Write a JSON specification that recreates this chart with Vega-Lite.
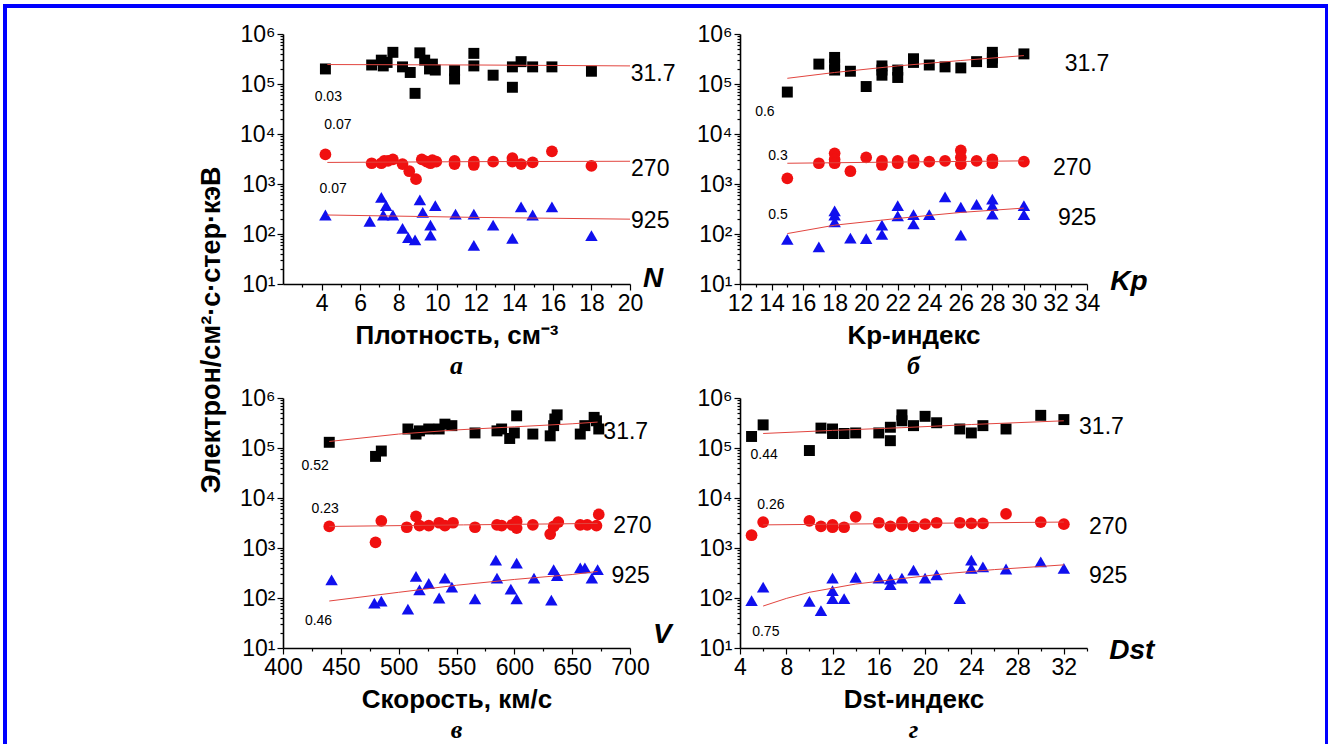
{
"$schema": "https://vega.github.io/schema/vega-lite/v6.json",
"background": "white",
"padding": {"left": 3, "top": 0, "right": 0, "bottom": 0},
"bounds": "flush",
"spacing": 0,
"datasets": {
"pts": [
{"p":"a","e":"31.7","x":4.2,"y":200000},{"p":"a","e":"31.7","x":6.6,"y":240000},{"p":"a","e":"31.7","x":7.1,"y":300000},{"p":"a","e":"31.7","x":7.2,"y":230000},{"p":"a","e":"31.7","x":7.4,"y":270000},{"p":"a","e":"31.7","x":7.7,"y":430000},{"p":"a","e":"31.7","x":8.2,"y":220000},{"p":"a","e":"31.7","x":8.6,"y":170000},{"p":"a","e":"31.7","x":8.85,"y":65000},{"p":"a","e":"31.7","x":9.1,"y":420000},{"p":"a","e":"31.7","x":9.35,"y":300000},{"p":"a","e":"31.7","x":9.6,"y":200000},{"p":"a","e":"31.7","x":9.75,"y":250000},{"p":"a","e":"31.7","x":9.9,"y":190000},{"p":"a","e":"31.7","x":10.9,"y":185000},{"p":"a","e":"31.7","x":10.9,"y":126000},{"p":"a","e":"31.7","x":11.9,"y":410000},{"p":"a","e":"31.7","x":11.9,"y":230000},{"p":"a","e":"31.7","x":12.9,"y":150000},{"p":"a","e":"31.7","x":13.9,"y":220000},{"p":"a","e":"31.7","x":13.9,"y":86000},{"p":"a","e":"31.7","x":14.35,"y":280000},{"p":"a","e":"31.7","x":14.95,"y":220000},{"p":"a","e":"31.7","x":15.95,"y":220000},{"p":"a","e":"31.7","x":18,"y":180000},
{"p":"a","e":"270","x":4.2,"y":3900},{"p":"a","e":"270","x":6.6,"y":2600},{"p":"a","e":"270","x":7.1,"y":2600},{"p":"a","e":"270","x":7.25,"y":2900},{"p":"a","e":"270","x":7.45,"y":2900},{"p":"a","e":"270","x":7.7,"y":3100},{"p":"a","e":"270","x":8.2,"y":2500},{"p":"a","e":"270","x":8.55,"y":1800},{"p":"a","e":"270","x":8.9,"y":1250},{"p":"a","e":"270","x":9.2,"y":3100},{"p":"a","e":"270","x":9.45,"y":2800},{"p":"a","e":"270","x":9.65,"y":2600},{"p":"a","e":"270","x":9.75,"y":3000},{"p":"a","e":"270","x":9.95,"y":2800},{"p":"a","e":"270","x":10.9,"y":2900},{"p":"a","e":"270","x":10.9,"y":2500},{"p":"a","e":"270","x":11.9,"y":2800},{"p":"a","e":"270","x":11.9,"y":2400},{"p":"a","e":"270","x":12.9,"y":2800},{"p":"a","e":"270","x":13.9,"y":3300},{"p":"a","e":"270","x":13.9,"y":2800},{"p":"a","e":"270","x":14.35,"y":2500},{"p":"a","e":"270","x":14.95,"y":2700},{"p":"a","e":"270","x":15.95,"y":4500},{"p":"a","e":"270","x":18,"y":2300},
{"p":"a","e":"925","x":4.2,"y":240},{"p":"a","e":"925","x":6.5,"y":180},{"p":"a","e":"925","x":7.1,"y":540},{"p":"a","e":"925","x":7.2,"y":240},{"p":"a","e":"925","x":7.35,"y":370},{"p":"a","e":"925","x":7.7,"y":240},{"p":"a","e":"925","x":8.2,"y":130},{"p":"a","e":"925","x":8.5,"y":85},{"p":"a","e":"925","x":8.85,"y":76},{"p":"a","e":"925","x":9.1,"y":480},{"p":"a","e":"925","x":9.25,"y":270},{"p":"a","e":"925","x":9.65,"y":150},{"p":"a","e":"925","x":9.65,"y":95},{"p":"a","e":"925","x":9.9,"y":370},{"p":"a","e":"925","x":10.95,"y":250},{"p":"a","e":"925","x":11.9,"y":250},{"p":"a","e":"925","x":11.9,"y":59},{"p":"a","e":"925","x":12.9,"y":150},{"p":"a","e":"925","x":13.9,"y":82},{"p":"a","e":"925","x":14.35,"y":350},{"p":"a","e":"925","x":14.95,"y":240},{"p":"a","e":"925","x":15.95,"y":350},{"p":"a","e":"925","x":18,"y":93},
{"p":"b","e":"31.7","x":15,"y":69000},{"p":"b","e":"31.7","x":17,"y":250000},{"p":"b","e":"31.7","x":18,"y":340000},{"p":"b","e":"31.7","x":18,"y":250000},{"p":"b","e":"31.7","x":18,"y":190000},{"p":"b","e":"31.7","x":19,"y":180000},{"p":"b","e":"31.7","x":20,"y":89000},{"p":"b","e":"31.7","x":21,"y":230000},{"p":"b","e":"31.7","x":21,"y":190000},{"p":"b","e":"31.7","x":21,"y":150000},{"p":"b","e":"31.7","x":22,"y":190000},{"p":"b","e":"31.7","x":22,"y":135000},{"p":"b","e":"31.7","x":23,"y":320000},{"p":"b","e":"31.7","x":23,"y":270000},{"p":"b","e":"31.7","x":24,"y":240000},{"p":"b","e":"31.7","x":25,"y":220000},{"p":"b","e":"31.7","x":26,"y":210000},{"p":"b","e":"31.7","x":27,"y":280000},{"p":"b","e":"31.7","x":28,"y":430000},{"p":"b","e":"31.7","x":28,"y":330000},{"p":"b","e":"31.7","x":28,"y":270000},{"p":"b","e":"31.7","x":30,"y":400000},
{"p":"b","e":"270","x":15,"y":1300},{"p":"b","e":"270","x":17,"y":2600},{"p":"b","e":"270","x":18,"y":4100},{"p":"b","e":"270","x":18,"y":3100},{"p":"b","e":"270","x":18,"y":2600},{"p":"b","e":"270","x":19,"y":1800},{"p":"b","e":"270","x":20,"y":3400},{"p":"b","e":"270","x":21,"y":2900},{"p":"b","e":"270","x":21,"y":2400},{"p":"b","e":"270","x":22,"y":2900},{"p":"b","e":"270","x":22,"y":2600},{"p":"b","e":"270","x":23,"y":3000},{"p":"b","e":"270","x":23,"y":2600},{"p":"b","e":"270","x":24,"y":2800},{"p":"b","e":"270","x":25,"y":2900},{"p":"b","e":"270","x":26,"y":4700},{"p":"b","e":"270","x":26,"y":3400},{"p":"b","e":"270","x":26,"y":2500},{"p":"b","e":"270","x":27,"y":2900},{"p":"b","e":"270","x":28,"y":3100},{"p":"b","e":"270","x":28,"y":2600},{"p":"b","e":"270","x":30,"y":2800},
{"p":"b","e":"925","x":15,"y":78},{"p":"b","e":"925","x":17,"y":55},{"p":"b","e":"925","x":18,"y":290},{"p":"b","e":"925","x":18,"y":240},{"p":"b","e":"925","x":18,"y":175},{"p":"b","e":"925","x":19,"y":83},{"p":"b","e":"925","x":20,"y":81},{"p":"b","e":"925","x":21,"y":150},{"p":"b","e":"925","x":21,"y":98},{"p":"b","e":"925","x":22,"y":370},{"p":"b","e":"925","x":22,"y":230},{"p":"b","e":"925","x":23,"y":245},{"p":"b","e":"925","x":23,"y":160},{"p":"b","e":"925","x":24,"y":245},{"p":"b","e":"925","x":25,"y":550},{"p":"b","e":"925","x":26,"y":345},{"p":"b","e":"925","x":26,"y":95},{"p":"b","e":"925","x":27,"y":390},{"p":"b","e":"925","x":28,"y":500},{"p":"b","e":"925","x":28,"y":370},{"p":"b","e":"925","x":28,"y":250},{"p":"b","e":"925","x":30,"y":370},{"p":"b","e":"925","x":30,"y":245},
{"p":"c","e":"31.7","x":440,"y":130000},{"p":"c","e":"31.7","x":480,"y":68000},{"p":"c","e":"31.7","x":485,"y":87000},{"p":"c","e":"31.7","x":508,"y":240000},{"p":"c","e":"31.7","x":515,"y":190000},{"p":"c","e":"31.7","x":518,"y":220000},{"p":"c","e":"31.7","x":526,"y":240000},{"p":"c","e":"31.7","x":535,"y":240000},{"p":"c","e":"31.7","x":540,"y":300000},{"p":"c","e":"31.7","x":546,"y":280000},{"p":"c","e":"31.7","x":566,"y":200000},{"p":"c","e":"31.7","x":585,"y":220000},{"p":"c","e":"31.7","x":589,"y":240000},{"p":"c","e":"31.7","x":596,"y":155000},{"p":"c","e":"31.7","x":600,"y":200000},{"p":"c","e":"31.7","x":602,"y":440000},{"p":"c","e":"31.7","x":616,"y":190000},{"p":"c","e":"31.7","x":631,"y":175000},{"p":"c","e":"31.7","x":634,"y":280000},{"p":"c","e":"31.7","x":635,"y":380000},{"p":"c","e":"31.7","x":637,"y":460000},{"p":"c","e":"31.7","x":657,"y":190000},{"p":"c","e":"31.7","x":661,"y":280000},{"p":"c","e":"31.7","x":669,"y":410000},{"p":"c","e":"31.7","x":671,"y":350000},{"p":"c","e":"31.7","x":673,"y":240000},
{"p":"c","e":"270","x":440,"y":2700},{"p":"c","e":"270","x":480,"y":1300},{"p":"c","e":"270","x":485,"y":3500},{"p":"c","e":"270","x":507,"y":2600},{"p":"c","e":"270","x":515,"y":4300},{"p":"c","e":"270","x":518,"y":2800},{"p":"c","e":"270","x":526,"y":2800},{"p":"c","e":"270","x":535,"y":3200},{"p":"c","e":"270","x":540,"y":2800},{"p":"c","e":"270","x":547,"y":3200},{"p":"c","e":"270","x":566,"y":2600},{"p":"c","e":"270","x":585,"y":2900},{"p":"c","e":"270","x":589,"y":2800},{"p":"c","e":"270","x":598,"y":2900},{"p":"c","e":"270","x":602,"y":3400},{"p":"c","e":"270","x":602,"y":2500},{"p":"c","e":"270","x":616,"y":2900},{"p":"c","e":"270","x":631,"y":1900},{"p":"c","e":"270","x":634,"y":2700},{"p":"c","e":"270","x":638,"y":3300},{"p":"c","e":"270","x":657,"y":2900},{"p":"c","e":"270","x":663,"y":2900},{"p":"c","e":"270","x":671,"y":2800},{"p":"c","e":"270","x":673,"y":4700},
{"p":"c","e":"925","x":442,"y":230},{"p":"c","e":"925","x":479,"y":79},{"p":"c","e":"925","x":485,"y":87},{"p":"c","e":"925","x":508,"y":60},{"p":"c","e":"925","x":515,"y":270},{"p":"c","e":"925","x":518,"y":145},{"p":"c","e":"925","x":526,"y":195},{"p":"c","e":"925","x":535,"y":100},{"p":"c","e":"925","x":540,"y":250},{"p":"c","e":"925","x":546,"y":165},{"p":"c","e":"925","x":566,"y":96},{"p":"c","e":"925","x":584,"y":570},{"p":"c","e":"925","x":585,"y":250},{"p":"c","e":"925","x":597,"y":150},{"p":"c","e":"925","x":602,"y":500},{"p":"c","e":"925","x":602,"y":96},{"p":"c","e":"925","x":617,"y":250},{"p":"c","e":"925","x":632,"y":91},{"p":"c","e":"925","x":634,"y":370},{"p":"c","e":"925","x":637,"y":280},{"p":"c","e":"925","x":657,"y":400},{"p":"c","e":"925","x":661,"y":400},{"p":"c","e":"925","x":667,"y":250},{"p":"c","e":"925","x":672,"y":370},
{"p":"d","e":"31.7","x":5,"y":170000},{"p":"d","e":"31.7","x":6,"y":290000},{"p":"d","e":"31.7","x":10,"y":89000},{"p":"d","e":"31.7","x":11,"y":250000},{"p":"d","e":"31.7","x":12,"y":240000},{"p":"d","e":"31.7","x":12,"y":195000},{"p":"d","e":"31.7","x":13,"y":195000},{"p":"d","e":"31.7","x":14,"y":200000},{"p":"d","e":"31.7","x":16,"y":200000},{"p":"d","e":"31.7","x":17,"y":260000},{"p":"d","e":"31.7","x":17,"y":140000},{"p":"d","e":"31.7","x":18,"y":460000},{"p":"d","e":"31.7","x":18,"y":350000},{"p":"d","e":"31.7","x":19,"y":280000},{"p":"d","e":"31.7","x":20,"y":430000},{"p":"d","e":"31.7","x":21,"y":320000},{"p":"d","e":"31.7","x":23,"y":240000},{"p":"d","e":"31.7","x":24,"y":200000},{"p":"d","e":"31.7","x":25,"y":280000},{"p":"d","e":"31.7","x":27,"y":240000},{"p":"d","e":"31.7","x":30,"y":450000},{"p":"d","e":"31.7","x":32,"y":370000},
{"p":"d","e":"270","x":5,"y":1800},{"p":"d","e":"270","x":6,"y":3300},{"p":"d","e":"270","x":10,"y":3500},{"p":"d","e":"270","x":11,"y":2700},{"p":"d","e":"270","x":12,"y":2900},{"p":"d","e":"270","x":12,"y":2600},{"p":"d","e":"270","x":13,"y":2600},{"p":"d","e":"270","x":14,"y":4200},{"p":"d","e":"270","x":16,"y":3200},{"p":"d","e":"270","x":17,"y":2700},{"p":"d","e":"270","x":18,"y":3300},{"p":"d","e":"270","x":18,"y":2900},{"p":"d","e":"270","x":19,"y":2700},{"p":"d","e":"270","x":20,"y":3000},{"p":"d","e":"270","x":21,"y":3200},{"p":"d","e":"270","x":23,"y":3200},{"p":"d","e":"270","x":24,"y":3100},{"p":"d","e":"270","x":25,"y":3100},{"p":"d","e":"270","x":27,"y":4800},{"p":"d","e":"270","x":30,"y":3300},{"p":"d","e":"270","x":32,"y":3000},
{"p":"d","e":"925","x":5,"y":89},{"p":"d","e":"925","x":6,"y":165},{"p":"d","e":"925","x":10,"y":86},{"p":"d","e":"925","x":11,"y":56},{"p":"d","e":"925","x":12,"y":250},{"p":"d","e":"925","x":12,"y":140},{"p":"d","e":"925","x":12,"y":97},{"p":"d","e":"925","x":13,"y":97},{"p":"d","e":"925","x":14,"y":260},{"p":"d","e":"925","x":16,"y":250},{"p":"d","e":"925","x":17,"y":240},{"p":"d","e":"925","x":17,"y":185},{"p":"d","e":"925","x":18,"y":250},{"p":"d","e":"925","x":19,"y":360},{"p":"d","e":"925","x":20,"y":250},{"p":"d","e":"925","x":21,"y":290},{"p":"d","e":"925","x":23,"y":97},{"p":"d","e":"925","x":24,"y":570},{"p":"d","e":"925","x":24,"y":390},{"p":"d","e":"925","x":25,"y":420},{"p":"d","e":"925","x":27,"y":380},{"p":"d","e":"925","x":30,"y":530},{"p":"d","e":"925","x":32,"y":390}
],
"fit": [
{"p":"a","e":"31.7","x":4.3,"y":245000},{"p":"a","e":"31.7","x":12,"y":240000},{"p":"a","e":"31.7","x":20,"y":230000},
{"p":"a","e":"270","x":4.3,"y":2700},{"p":"a","e":"270","x":12,"y":2800},{"p":"a","e":"270","x":20,"y":2850},
{"p":"a","e":"925","x":4.3,"y":240},{"p":"a","e":"925","x":12,"y":215},{"p":"a","e":"925","x":20,"y":198},
{"p":"b","e":"31.7","x":15,"y":130000},{"p":"b","e":"31.7","x":18,"y":170000},{"p":"b","e":"31.7","x":22,"y":230000},{"p":"b","e":"31.7","x":26,"y":295000},{"p":"b","e":"31.7","x":30,"y":370000},
{"p":"b","e":"270","x":15,"y":2600},{"p":"b","e":"270","x":22,"y":2750},{"p":"b","e":"270","x":30,"y":2900},
{"p":"b","e":"925","x":15,"y":102},{"p":"b","e":"925","x":18,"y":150},{"p":"b","e":"925","x":22,"y":205},{"p":"b","e":"925","x":26,"y":270},{"p":"b","e":"925","x":30,"y":330},
{"p":"c","e":"31.7","x":440,"y":135000},{"p":"c","e":"31.7","x":500,"y":190000},{"p":"c","e":"31.7","x":550,"y":230000},{"p":"c","e":"31.7","x":600,"y":265000},{"p":"c","e":"31.7","x":650,"y":305000},{"p":"c","e":"31.7","x":672,"y":330000},
{"p":"c","e":"270","x":440,"y":2700},{"p":"c","e":"270","x":556,"y":2900},{"p":"c","e":"270","x":672,"y":3100},
{"p":"c","e":"925","x":440,"y":87},{"p":"c","e":"925","x":500,"y":130},{"p":"c","e":"925","x":550,"y":180},{"p":"c","e":"925","x":600,"y":235},{"p":"c","e":"925","x":650,"y":295},{"p":"c","e":"925","x":672,"y":340},
{"p":"d","e":"31.7","x":6,"y":195000},{"p":"d","e":"31.7","x":12,"y":225000},{"p":"d","e":"31.7","x":18,"y":255000},{"p":"d","e":"31.7","x":24,"y":295000},{"p":"d","e":"31.7","x":32,"y":350000},
{"p":"d","e":"270","x":6,"y":2900},{"p":"d","e":"270","x":19,"y":3100},{"p":"d","e":"270","x":32,"y":3300},
{"p":"d","e":"925","x":6,"y":69},{"p":"d","e":"925","x":8,"y":98},{"p":"d","e":"925","x":10,"y":130},{"p":"d","e":"925","x":14,"y":190},{"p":"d","e":"925","x":18,"y":245},{"p":"d","e":"925","x":22,"y":310},{"p":"d","e":"925","x":26,"y":370},{"p":"d","e":"925","x":32,"y":460}
],
"ann": [
{"p":"a","k":"r","t":"0.03","x":4.35,"y":54000},{"p":"a","k":"r","t":"0.07","x":4.85,"y":15000},{"p":"a","k":"r","t":"0.07","x":4.6,"y":800},
{"p":"a","k":"e","t":"31.7","x":21.2,"y":155000},{"p":"a","k":"e","t":"270","x":21.05,"y":2000},{"p":"a","k":"e","t":"925","x":21.05,"y":186},{"p":"a","k":"v","t":"N","x":21.2,"y":12.6},
{"p":"b","k":"r","t":"0.6","x":13.58,"y":28000},{"p":"b","k":"r","t":"0.3","x":14.41,"y":3700},{"p":"b","k":"r","t":"0.5","x":14.41,"y":240},
{"p":"b","k":"e","t":"31.7","x":34.0,"y":250000},{"p":"b","k":"e","t":"270","x":33.06,"y":2100},{"p":"b","k":"e","t":"925","x":33.38,"y":205},{"p":"b","k":"v","t":"Kp","x":36.66,"y":11.2},
{"p":"c","k":"r","t":"0.52","x":427.8,"y":44000},{"p":"c","k":"r","t":"0.23","x":436.5,"y":5900},{"p":"c","k":"r","t":"0.46","x":430.7,"y":34},
{"p":"c","k":"e","t":"31.7","x":696.3,"y":210000},{"p":"c","k":"e","t":"270","x":702,"y":2750},{"p":"c","k":"e","t":"925","x":700.6,"y":275},{"p":"c","k":"v","t":"V","x":728,"y":17.8},
{"p":"d","k":"r","t":"0.44","x":6.09,"y":71000},{"p":"d","k":"r","t":"0.26","x":6.67,"y":7100},{"p":"d","k":"r","t":"0.75","x":6.23,"y":21},
{"p":"d","k":"e","t":"31.7","x":35.25,"y":260000},{"p":"d","k":"e","t":"270","x":35.83,"y":2600},{"p":"d","k":"e","t":"925","x":35.83,"y":275},{"p":"d","k":"v","t":"Dst","x":37.87,"y":8.9}
]
},
"vconcat": [
{"width": 1325, "height": 4, "data": {"values": [{}]}, "mark": {"type": "text", "text": ""}, "encoding": {}, "view": {"fill": "#0000ff", "stroke": null}},
{
"hconcat": [
{"width": 4, "height": 737, "data": {"values": [{}]}, "mark": {"type": "text", "text": ""}, "encoding": {}, "view": {"fill": "#0000ff", "stroke": null}},
{
"vconcat": [
{"width": 1, "height": 1, "data": {"values": [{}]}, "mark": {"type": "text", "text": ""}, "encoding": {}},
{
"title": {"text": "Электрон/см²·с·стер·кэВ", "orient": "left", "anchor": "middle", "font": "Liberation Sans", "fontSize": 27, "fontWeight": "bold", "fontStyle": "normal", "color": "#000", "offset": 14, "dx": 53},
"columns": 2,
"bounds": "flush",
"spacing": {"column": 110, "row": 114},
"concat": [
{
"width": 347, "height": 250,
"title": {"text": "а", "orient": "bottom"},
"encoding": {
"x": {"field": "x", "type": "quantitative", "scale": {"domain": [2, 20], "nice": false, "zero": false}, "axis": {"title": "Плотность, см⁻³", "values": [3,4,5,6,7,8,9,10,11,12,13,14,15,16,17,18,19,20], "labelExpr": "datum.value % 2 == 0 ? datum.label : ''", "tickSize": {"condition": {"test": "datum.value % 2 == 0", "value": 6}, "value": 3}}},
"y": {"field": "y", "type": "quantitative", "scale": {"type": "log", "domain": [10, 1000000], "nice": false}, "axis": {"title": null, "values": [10,20,30,40,50,60,70,80,90,100,200,300,400,500,600,700,800,900,1000,2000,3000,4000,5000,6000,7000,8000,9000,10000,20000,30000,40000,50000,60000,70000,80000,90000,100000,200000,300000,400000,500000,600000,700000,800000,900000,1000000], "labelExpr": "datum.value==10?'10¹':datum.value==100?'10²':datum.value==1000?'10³':datum.value==10000?'10⁴':datum.value==100000?'10⁵':datum.value==1000000?'10⁶':''", "tickSize": {"condition": {"test": "indexof([10,100,1000,10000,100000,1000000], datum.value) >= 0", "value": 6}, "value": 3}}}
},
"layer": [
{"data": {"name": "pts"}, "transform": [{"filter": "datum.p == 'a'"}], "mark": {"type": "point", "filled": true, "opacity": 1}, "encoding": {"shape": {"field": "e", "type": "nominal", "scale": {"domain": ["31.7","270","925"], "range": ["square","circle","triangle-up"]}, "legend": null}, "color": {"field": "e", "type": "nominal", "scale": {"domain": ["31.7","270","925"], "range": ["#000000","#f01010","#1010ee"]}, "legend": null}, "size": {"field": "e", "type": "nominal", "scale": {"domain": ["31.7","270","925"], "range": [120,155,175]}, "legend": null}}},
{"data": {"name": "fit"}, "transform": [{"filter": "datum.p == 'a'"}], "mark": {"type": "line", "color": "#e2453f", "strokeWidth": 1}, "encoding": {"detail": {"field": "e"}}},
{"data": {"name": "ann"}, "transform": [{"filter": "datum.p == 'a' && datum.k == 'e'"}], "mark": {"type": "text", "fontSize": 23, "color": "#000"}, "encoding": {"text": {"field": "t"}}},
{"data": {"name": "ann"}, "transform": [{"filter": "datum.p == 'a' && datum.k == 'r'"}], "mark": {"type": "text", "fontSize": 14, "color": "#000"}, "encoding": {"text": {"field": "t"}}},
{"data": {"name": "ann"}, "transform": [{"filter": "datum.p == 'a' && datum.k == 'v'"}], "mark": {"type": "text", "fontSize": 28, "fontWeight": "bold", "fontStyle": "italic", "color": "#000"}, "encoding": {"text": {"field": "t"}}}
]
},
{
"width": 347, "height": 250,
"title": {"text": "б", "orient": "bottom"},
"encoding": {
"x": {"field": "x", "type": "quantitative", "scale": {"domain": [12, 34], "nice": false, "zero": false}, "axis": {"title": "Kp-индекс", "values": [12,13,14,15,16,17,18,19,20,21,22,23,24,25,26,27,28,29,30,31,32,33,34], "labelExpr": "datum.value % 2 == 0 ? datum.label : ''", "tickSize": {"condition": {"test": "datum.value % 2 == 0", "value": 6}, "value": 3}}},
"y": {"field": "y", "type": "quantitative", "scale": {"type": "log", "domain": [10, 1000000], "nice": false}, "axis": {"title": null, "values": [10,20,30,40,50,60,70,80,90,100,200,300,400,500,600,700,800,900,1000,2000,3000,4000,5000,6000,7000,8000,9000,10000,20000,30000,40000,50000,60000,70000,80000,90000,100000,200000,300000,400000,500000,600000,700000,800000,900000,1000000], "labelExpr": "datum.value==10?'10¹':datum.value==100?'10²':datum.value==1000?'10³':datum.value==10000?'10⁴':datum.value==100000?'10⁵':datum.value==1000000?'10⁶':''", "tickSize": {"condition": {"test": "indexof([10,100,1000,10000,100000,1000000], datum.value) >= 0", "value": 6}, "value": 3}}}
},
"layer": [
{"data": {"name": "pts"}, "transform": [{"filter": "datum.p == 'b'"}], "mark": {"type": "point", "filled": true, "opacity": 1}, "encoding": {"shape": {"field": "e", "type": "nominal", "scale": {"domain": ["31.7","270","925"], "range": ["square","circle","triangle-up"]}, "legend": null}, "color": {"field": "e", "type": "nominal", "scale": {"domain": ["31.7","270","925"], "range": ["#000000","#f01010","#1010ee"]}, "legend": null}, "size": {"field": "e", "type": "nominal", "scale": {"domain": ["31.7","270","925"], "range": [120,155,175]}, "legend": null}}},
{"data": {"name": "fit"}, "transform": [{"filter": "datum.p == 'b'"}], "mark": {"type": "line", "color": "#e2453f", "strokeWidth": 1}, "encoding": {"detail": {"field": "e"}}},
{"data": {"name": "ann"}, "transform": [{"filter": "datum.p == 'b' && datum.k == 'e'"}], "mark": {"type": "text", "fontSize": 23, "color": "#000"}, "encoding": {"text": {"field": "t"}}},
{"data": {"name": "ann"}, "transform": [{"filter": "datum.p == 'b' && datum.k == 'r'"}], "mark": {"type": "text", "fontSize": 14, "color": "#000"}, "encoding": {"text": {"field": "t"}}},
{"data": {"name": "ann"}, "transform": [{"filter": "datum.p == 'b' && datum.k == 'v'"}], "mark": {"type": "text", "fontSize": 28, "fontWeight": "bold", "fontStyle": "italic", "color": "#000"}, "encoding": {"text": {"field": "t"}}}
]
},
{
"width": 347, "height": 250,
"title": {"text": "в", "orient": "bottom"},
"encoding": {
"x": {"field": "x", "type": "quantitative", "scale": {"domain": [400, 700], "nice": false, "zero": false}, "axis": {"title": "Скорость, км/с", "values": [400,425,450,475,500,525,550,575,600,625,650,675,700], "labelExpr": "datum.value % 50 == 0 ? datum.label : ''", "tickSize": {"condition": {"test": "datum.value % 50 == 0", "value": 6}, "value": 3}}},
"y": {"field": "y", "type": "quantitative", "scale": {"type": "log", "domain": [10, 1000000], "nice": false}, "axis": {"title": null, "values": [10,20,30,40,50,60,70,80,90,100,200,300,400,500,600,700,800,900,1000,2000,3000,4000,5000,6000,7000,8000,9000,10000,20000,30000,40000,50000,60000,70000,80000,90000,100000,200000,300000,400000,500000,600000,700000,800000,900000,1000000], "labelExpr": "datum.value==10?'10¹':datum.value==100?'10²':datum.value==1000?'10³':datum.value==10000?'10⁴':datum.value==100000?'10⁵':datum.value==1000000?'10⁶':''", "tickSize": {"condition": {"test": "indexof([10,100,1000,10000,100000,1000000], datum.value) >= 0", "value": 6}, "value": 3}}}
},
"layer": [
{"data": {"name": "pts"}, "transform": [{"filter": "datum.p == 'c'"}], "mark": {"type": "point", "filled": true, "opacity": 1}, "encoding": {"shape": {"field": "e", "type": "nominal", "scale": {"domain": ["31.7","270","925"], "range": ["square","circle","triangle-up"]}, "legend": null}, "color": {"field": "e", "type": "nominal", "scale": {"domain": ["31.7","270","925"], "range": ["#000000","#f01010","#1010ee"]}, "legend": null}, "size": {"field": "e", "type": "nominal", "scale": {"domain": ["31.7","270","925"], "range": [120,155,175]}, "legend": null}}},
{"data": {"name": "fit"}, "transform": [{"filter": "datum.p == 'c'"}], "mark": {"type": "line", "color": "#e2453f", "strokeWidth": 1}, "encoding": {"detail": {"field": "e"}}},
{"data": {"name": "ann"}, "transform": [{"filter": "datum.p == 'c' && datum.k == 'e'"}], "mark": {"type": "text", "fontSize": 23, "color": "#000"}, "encoding": {"text": {"field": "t"}}},
{"data": {"name": "ann"}, "transform": [{"filter": "datum.p == 'c' && datum.k == 'r'"}], "mark": {"type": "text", "fontSize": 14, "color": "#000"}, "encoding": {"text": {"field": "t"}}},
{"data": {"name": "ann"}, "transform": [{"filter": "datum.p == 'c' && datum.k == 'v'"}], "mark": {"type": "text", "fontSize": 28, "fontWeight": "bold", "fontStyle": "italic", "color": "#000"}, "encoding": {"text": {"field": "t"}}}
]
},
{
"width": 347, "height": 250,
"title": {"text": "г", "orient": "bottom"},
"encoding": {
"x": {"field": "x", "type": "quantitative", "scale": {"domain": [4, 34], "nice": false, "zero": false}, "axis": {"title": "Dst-индекс", "values": [4,6,8,10,12,14,16,18,20,22,24,26,28,30,32,34], "labelExpr": "datum.value % 4 == 0 && datum.value <= 32 ? datum.label : ''", "tickSize": {"condition": {"test": "datum.value % 4 == 0", "value": 6}, "value": 3}}},
"y": {"field": "y", "type": "quantitative", "scale": {"type": "log", "domain": [10, 1000000], "nice": false}, "axis": {"title": null, "values": [10,20,30,40,50,60,70,80,90,100,200,300,400,500,600,700,800,900,1000,2000,3000,4000,5000,6000,7000,8000,9000,10000,20000,30000,40000,50000,60000,70000,80000,90000,100000,200000,300000,400000,500000,600000,700000,800000,900000,1000000], "labelExpr": "datum.value==10?'10¹':datum.value==100?'10²':datum.value==1000?'10³':datum.value==10000?'10⁴':datum.value==100000?'10⁵':datum.value==1000000?'10⁶':''", "tickSize": {"condition": {"test": "indexof([10,100,1000,10000,100000,1000000], datum.value) >= 0", "value": 6}, "value": 3}}}
},
"layer": [
{"data": {"name": "pts"}, "transform": [{"filter": "datum.p == 'd'"}], "mark": {"type": "point", "filled": true, "opacity": 1}, "encoding": {"shape": {"field": "e", "type": "nominal", "scale": {"domain": ["31.7","270","925"], "range": ["square","circle","triangle-up"]}, "legend": null}, "color": {"field": "e", "type": "nominal", "scale": {"domain": ["31.7","270","925"], "range": ["#000000","#f01010","#1010ee"]}, "legend": null}, "size": {"field": "e", "type": "nominal", "scale": {"domain": ["31.7","270","925"], "range": [120,155,175]}, "legend": null}}},
{"data": {"name": "fit"}, "transform": [{"filter": "datum.p == 'd'"}], "mark": {"type": "line", "color": "#e2453f", "strokeWidth": 1}, "encoding": {"detail": {"field": "e"}}},
{"data": {"name": "ann"}, "transform": [{"filter": "datum.p == 'd' && datum.k == 'e'"}], "mark": {"type": "text", "fontSize": 23, "color": "#000"}, "encoding": {"text": {"field": "t"}}},
{"data": {"name": "ann"}, "transform": [{"filter": "datum.p == 'd' && datum.k == 'r'"}], "mark": {"type": "text", "fontSize": 14, "color": "#000"}, "encoding": {"text": {"field": "t"}}},
{"data": {"name": "ann"}, "transform": [{"filter": "datum.p == 'd' && datum.k == 'v'"}], "mark": {"type": "text", "fontSize": 28, "fontWeight": "bold", "fontStyle": "italic", "color": "#000"}, "encoding": {"text": {"field": "t"}}}
]
}
]
}
],
"spacing": 25,
"bounds": "flush"
},
{"width": 490, "height": 1, "data": {"values": [{}]}, "mark": {"type": "text", "text": ""}, "encoding": {}},
{"width": 3, "height": 737, "data": {"values": [{}]}, "mark": {"type": "text", "text": ""}, "encoding": {}, "view": {"fill": "#0000ff", "stroke": null}}
],
"spacing": 276,
"bounds": "flush"
}
],
"config": {
"font": "Liberation Sans",
"view": {"stroke": null},
"text": {"font": "Liberation Sans"},
"axis": {"grid": false, "domainColor": "#000", "domainWidth": 1.6, "tickColor": "#000", "tickWidth": 1.2, "labelColor": "#000", "labelFont": "Liberation Sans", "labelFontSize": 23, "labelPadding": 2, "labelOverlap": false, "labelFlush": false, "titleFont": "Liberation Sans", "titleFontSize": 26, "titleFontWeight": "bold", "titleColor": "#000", "titlePadding": 7},
"title": {"font": "Liberation Serif", "fontSize": 26, "fontWeight": "bold", "fontStyle": "italic", "color": "#000", "offset": 5}
}
}
